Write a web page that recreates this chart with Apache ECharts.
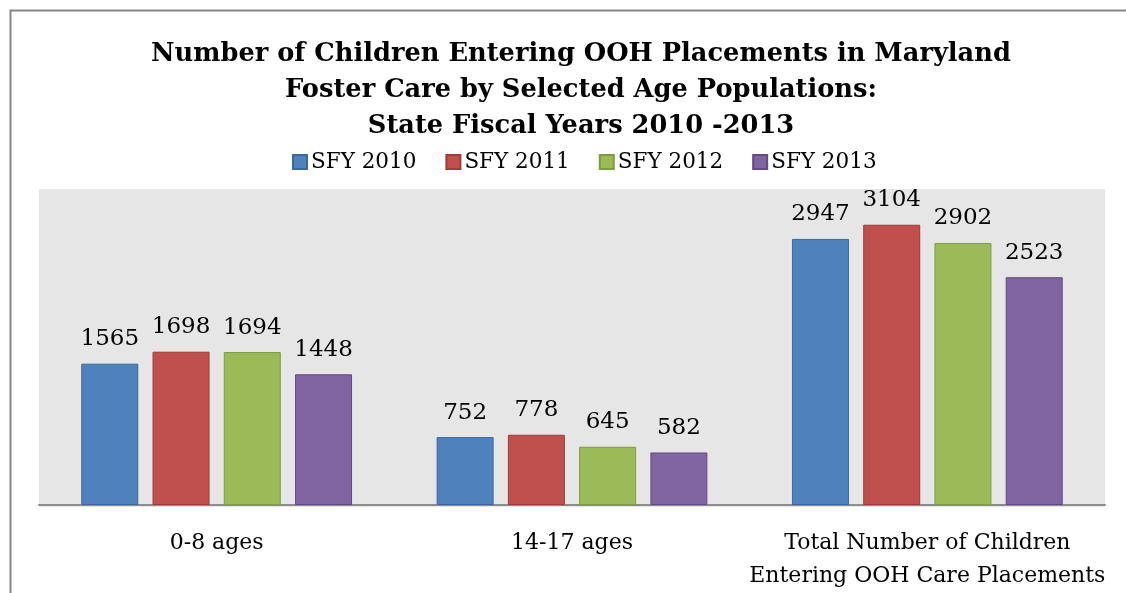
<!DOCTYPE html>
<html><head><meta charset="utf-8">
<script src="https://cdn.jsdelivr.net/npm/echarts@6/dist/echarts.min.js"></script>
<style>html,body{margin:0;padding:0;background:#fff}#c{width:1126px;height:593px}</style>
</head><body><div id="c"></div>
<script>
const categories = ['0-8 ages', '14-17 ages', 'Total Number of Children\nEntering OOH Care Placements'];
const seriesNames = ['SFY 2010', 'SFY 2011', 'SFY 2012', 'SFY 2013'];
const sfy2010 = [1565, 752, 2947];
const sfy2011 = [1698, 778, 3104];
const sfy2012 = [1694, 645, 2902];
const sfy2013 = [1448, 582, 2523];
const colors = ['#4F81BD', '#C0504D', '#9BBB59', '#8064A2'];
const borders = ['#3B679C', '#9E3B38', '#7D9B40', '#624A84'];
const FONT = '"DejaVu Serif", "Liberation Serif", serif';
const chart = echarts.init(document.getElementById('c'), null, {renderer: 'canvas'});
const values = [sfy2010, sfy2011, sfy2012, sfy2013];
chart.setOption({
  animation: false,
  backgroundColor: '#fff',
  graphic: [
    {type: 'rect', shape: {x: 10.5, y: 10.5, width: 1200, height: 700}, style: {fill: 'none', stroke: '#888', lineWidth: 2}, z: 0},
    {type: 'rect', shape: {x: 39, y: 189, width: 1066, height: 318}, style: {fill: '#E6E6E6'}, z: -1}
  ],
  title: {
    text: 'Number of Children Entering OOH Placements in Maryland\nFoster Care by Selected Age Populations:\nState Fiscal Years 2010 -2013',
    left: 576, textAlign: 'center', top: 31,
    textStyle: {fontFamily: FONT, fontWeight: 'bold', fontSize: 25.7, lineHeight: 36, color: '#000'}
  },
  legend: {
    data: seriesNames, top: 146, left: 287,
    itemWidth: 14, itemHeight: 14, itemGap: 29,
    icon: 'rect',
    textStyle: {fontFamily: FONT, fontSize: 21.5, color: '#000', padding: [0,0,0,-1]}
  },
  grid: {left: 39, right: 21, top: 189, bottom: 86, containLabel: false},
  xAxis: {
    type: 'category', data: categories,
    axisTick: {show: false},
    axisLine: {lineStyle: {color: '#8C8C8C', width: 2}},
    axisLabel: {fontFamily: FONT, fontSize: 22, color: '#000', lineHeight: 33, margin: 22, interval: 0}
  },
  yAxis: {type: 'value', min: 0, max: 3500, interval: 500, show: false, splitLine: {show: false}},
  series: values.map((v, i) => ({
    name: seriesNames[i], type: 'bar', data: v,
    barWidth: 57, barGap: '25%',
    itemStyle: {color: colors[i], borderColor: borders[i], borderWidth: 1},
    label: {show: true, position: 'top', distance: 13, fontFamily: FONT, fontSize: 23, color: '#000'}
  }))
});
</script></body></html>
